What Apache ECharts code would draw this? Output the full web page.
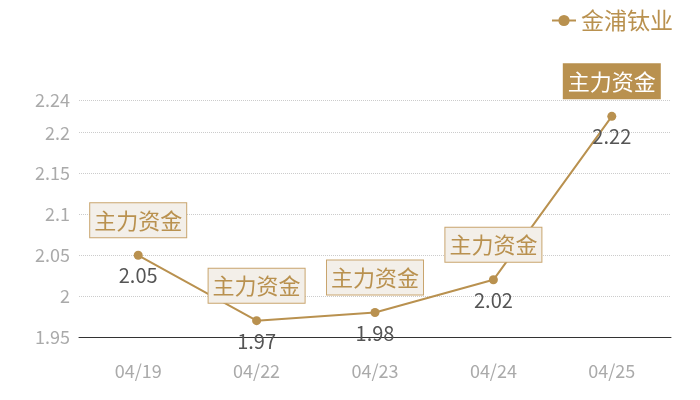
<!DOCTYPE html>
<html>
<head>
<meta charset="utf-8">
<script src="https://cdn.jsdelivr.net/npm/echarts@6/dist/echarts.min.js"></script>
<style>
  html, body { margin: 0; padding: 0; background: #fff; }
  #chart { width: 700px; height: 400px; }
</style>
</head>
<body>
<div id="chart"></div>
<script>
  var dates = ['04/19', '04/22', '04/23', '04/24', '04/25'];
  var prices = [2.05, 1.97, 1.98, 2.02, 2.22];
  var markText = '主力资金';
  var gold = '#b9914f';

  var chart = echarts.init(document.getElementById('chart'));

  // 主力资金 标记
  var marks = dates.map(function(d, i) {
    var last = i === dates.length - 1;
    return {
      coord: [i, prices[i]],
      value: markText,
      label: last ? {
        color: '#fff',
        backgroundColor: gold,
        borderColor: gold
      } : {}
    };
  });

  var option = {
    textStyle: { fontFamily: 'Noto Sans CJK SC' },
    legend: {
      data: ['金浦钛业'],
      right: 22,
      top: 4,
      itemWidth: 24,
      itemHeight: 14,
      itemGap: 6,
      textStyle: { color: gold, fontSize: 23, fontFamily: 'Noto Sans CJK SC' }
    },
    grid: {
      left: 79,
      right: 29,
      top: 100,
      bottom: 63
    },
    xAxis: {
      type: 'category',
      data: dates,
      boundaryGap: true,
      axisTick: { show: false },
      axisLine: { lineStyle: { color: '#333', width: 1 } },
      axisLabel: { color: '#aaa', fontSize: 18, margin: 25 }
    },
    yAxis: {
      type: 'value',
      min: 1.95,
      max: 2.24,
      interval: 0.05,
      axisLine: { show: false },
      axisTick: { show: false },
      axisLabel: { color: '#aaa', fontSize: 18, margin: 9 },
      splitLine: { lineStyle: { color: '#ccc', type: 'dotted' } }
    },
    series: [{
      name: '金浦钛业',
      type: 'line',
      data: prices,
      symbol: 'circle',
      symbolSize: 9,
      itemStyle: { color: gold },
      lineStyle: { color: gold, width: 2 },
      label: {
        show: true,
        position: 'bottom',
        distance: 6,
        color: '#555',
        fontSize: 20
      },
      markPoint: {
        symbol: 'circle',
        symbolSize: 1,
        itemStyle: { color: 'rgba(0,0,0,0)' },
        label: {
          show: true,
          position: 'inside',
          offset: [0, -35],
          formatter: markText,
          color: gold,
          fontSize: 22,
          lineHeight: 28,
          padding: [3, 4],
          backgroundColor: '#f3efe9',
          borderColor: '#c9a56e',
          borderWidth: 1
        },
        data: marks
      }
    }]
  };
  chart.setOption(option);
</script>
</body>
</html>
